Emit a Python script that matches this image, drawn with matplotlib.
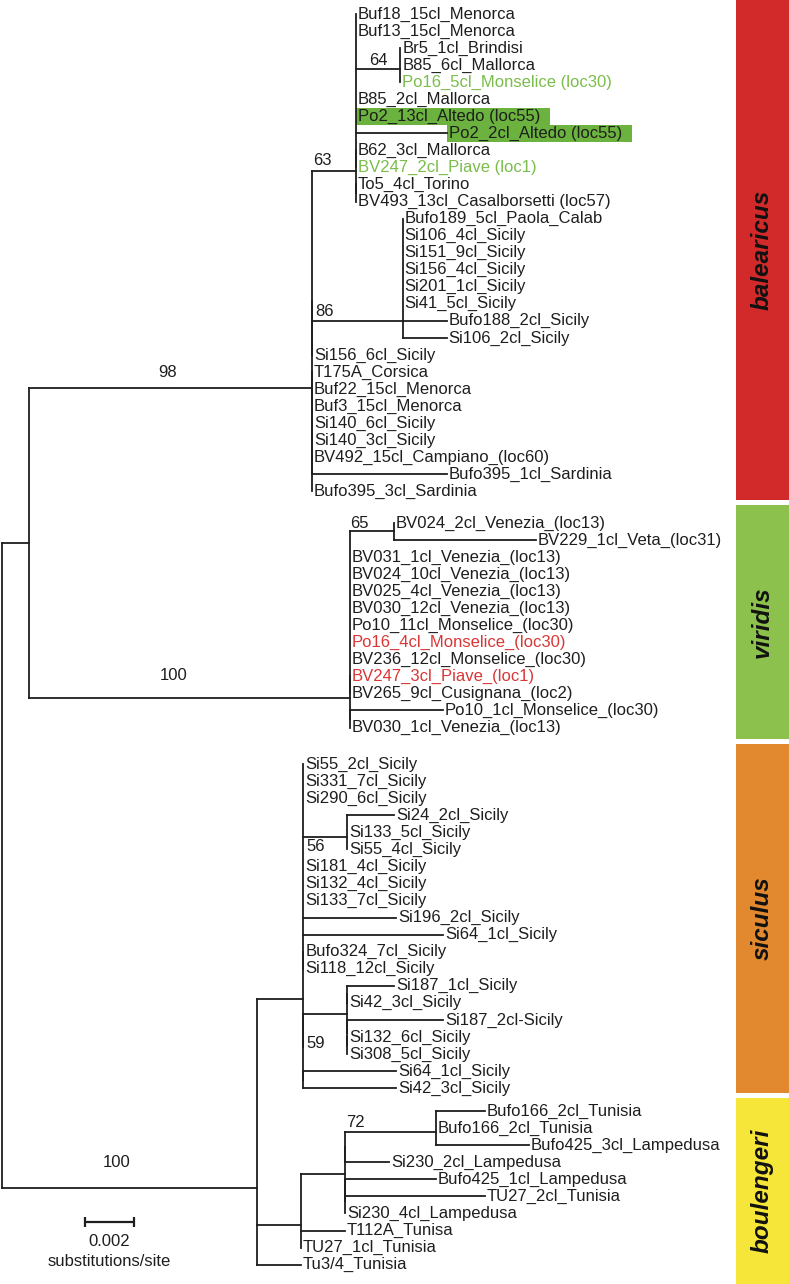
import matplotlib
matplotlib.use("Agg")
import matplotlib.pyplot as plt
from matplotlib.patches import Rectangle


def leaf(name, bl=0.0):
    return {"name": name, "len": bl}


def node(kids, bl=0.0, support=None, tag=None):
    # zero-length nodes only nest polytomies the way the original program drew them
    return {"kids": kids, "len": bl, "support": support, "tag": tag}


# ---- tree data: branch lengths in substitutions/site, bootstrap supports ----
clade_64 = node([leaf("Br5_1cl_Brindisi"), leaf("B85_6cl_Mallorca"),
                 leaf("Po16_5cl_Monselice (loc30)")], 0.0018, 64, "64")

clade_63 = node([
    node([leaf("Buf18_15cl_Menorca"), leaf("Buf13_15cl_Menorca"), clade_64,
          leaf("B85_2cl_Mallorca"), leaf("Po2_13cl_Altedo (loc55)"),
          leaf("Po2_2cl_Altedo (loc55)", 0.0037), leaf("B62_3cl_Mallorca"),
          leaf("BV247_2cl_Piave (loc1)")]),
    node([leaf("To5_4cl_Torino"), leaf("BV493_13cl_Casalborsetti (loc57)")]),
], 0.0018, 63, "63")

clade_86 = node([leaf("Bufo189_5cl_Paola_Calab"), leaf("Si106_4cl_Sicily"),
                 leaf("Si151_9cl_Sicily"), leaf("Si156_4cl_Sicily"),
                 leaf("Si201_1cl_Sicily"), leaf("Si41_5cl_Sicily"),
                 leaf("Bufo188_2cl_Sicily", 0.0018),
                 leaf("Si106_2cl_Sicily", 0.0018)], 0.0037, 86, "86")

balearicus = node([
    node([clade_63, clade_86, leaf("Si156_6cl_Sicily")]),
    node([leaf("T175A_Corsica"), leaf("Buf22_15cl_Menorca"), leaf("Buf3_15cl_Menorca"),
          leaf("Si140_6cl_Sicily"), leaf("Si140_3cl_Sicily"),
          leaf("BV492_15cl_Campiano_(loc60)"), leaf("Bufo395_1cl_Sardinia", 0.0055),
          leaf("Bufo395_3cl_Sardinia")]),
], 0.01155, 98, "balearicus")

clade_65 = node([leaf("BV024_2cl_Venezia_(loc13)"),
                 leaf("BV229_1cl_Veta_(loc31)", 0.0058)], 0.0018, 65, "65")

viridis = node([
    node([clade_65, leaf("BV031_1cl_Venezia_(loc13)"), leaf("BV024_10cl_Venezia_(loc13)"),
          leaf("BV025_4cl_Venezia_(loc13)"), leaf("BV030_12cl_Venezia_(loc13)"),
          leaf("Po10_11cl_Monselice_(loc30)"), leaf("Po16_4cl_Monselice_(loc30)"),
          leaf("BV236_12cl_Monselice_(loc30)"), leaf("BV247_3cl_Piave_(loc1)"),
          leaf("BV265_9cl_Cusignana_(loc2)")]),
    node([leaf("Po10_1cl_Monselice_(loc30)", 0.0038), leaf("BV030_1cl_Venezia_(loc13)")]),
], 0.0131, 100, "viridis")

clade_56 = node([leaf("Si24_2cl_Sicily", 0.0019), leaf("Si133_5cl_Sicily"),
                 leaf("Si55_4cl_Sicily")], 0.0018, 56, "56")

clade_59 = node([
    node([leaf("Si187_1cl_Sicily", 0.0019), leaf("Si42_3cl_Sicily")]),
    node([leaf("Si187_2cl-Sicily", 0.0039),
          node([leaf("Si132_6cl_Sicily"), leaf("Si308_5cl_Sicily")])]),
], 0.0018, 59, "59")

siculus = node([
    node([leaf("Si55_2cl_Sicily"), leaf("Si331_7cl_Sicily"), leaf("Si290_6cl_Sicily"),
          clade_56, leaf("Si181_4cl_Sicily"), leaf("Si132_4cl_Sicily"),
          leaf("Si133_7cl_Sicily"), leaf("Si196_2cl_Sicily", 0.0038),
          leaf("Si64_1cl_Sicily", 0.0057), leaf("Bufo324_7cl_Sicily"),
          leaf("Si118_12cl_Sicily")]),
    node([clade_59, node([leaf("Si64_1cl_Sicily", 0.0038), leaf("Si42_3cl_Sicily", 0.0038)])]),
], 0.0019, None, "siculus")

clade_72 = node([leaf("Bufo166_2cl_Tunisia", 0.0020), leaf("Bufo166_2cl_Tunisia"),
                 leaf("Bufo425_3cl_Lampedusa", 0.0038)], 0.0037, 72, "72")

boulengeri = node([
    node([node([clade_72, leaf("Si230_2cl_Lampedusa", 0.0018)]),
          node([node([leaf("Bufo425_1cl_Lampedusa", 0.0037), leaf("TU27_2cl_Tunisia", 0.0057)]),
                leaf("Si230_4cl_Lampedusa")])], 0.0018),
    leaf("T112A_Tunisa", 0.0018), leaf("TU27_1cl_Tunisia"),
], 0.0018, None, "boulengeri")

tu34 = leaf("Tu3/4_Tunisia", 0.0018)

tree = node([node([balearicus, viridis], 0.0011),
             node([siculus, boulengeri, tu34], 0.0104, 100, "sicboul")])

species = ["balearicus", "viridis", "siculus", "boulengeri"]
species_colors = ["#d22a2a", "#8bc14c", "#e2892f", "#f6e639"]
green_names = ["Po16_5cl_Monselice (loc30)", "BV247_2cl_Piave (loc1)"]
red_names = ["Po16_4cl_Monselice_(loc30)", "BV247_3cl_Piave_(loc1)"]
boxed_names = ["Po2_13cl_Altedo (loc55)", "Po2_2cl_Altedo (loc55)"]
scale_length = 0.002

# ---- layout ----
W, H = 789, 1284
ROW = 17.05          # px per leaf row
TOP = 14             # px of first row
K = 0.002 / 49       # subs/site per pixel (scale bar is 49 px)
XR = 2               # px of root
GAPS = {"viridis": 0.85, "siculus": 1.15, "boulengeri": 0.35}
# support label placement: (ha, fraction along branch, row offset)
SUP_POS = {"balearicus": ("center", 0.49, -0.88), "viridis": ("center", 0.45, -1.3),
           "sicboul": ("center", 0.45, -1.5), "63": ("left", 0.02, -0.65),
           "64": ("center", 0.5, -0.55), "86": ("left", 0.04, -0.55),
           "65": ("left", 0.0, -0.45), "56": ("left", 0.08, 0.55),
           "59": ("left", 0.08, 1.75), "72": ("left", 0.01, -0.6)}
INK = "#1e1e1e"
FS = 12

plt.rcParams["font.family"] = ["Liberation Sans", "DejaVu Sans"]


def px2x(px):
    return (px - XR) * K


def place(n, x0, state):
    n["x0"], n["x"] = x0, x0 + n["len"]
    if n.get("tag") in GAPS:
        state["row"] += GAPS[n["tag"]]
    if "kids" not in n:
        n["y"] = state["row"]
        state["row"] += 1
        return
    for k in n["kids"]:
        place(k, n["x"], state)
    ys = [k["y"] for k in n["kids"]]
    y = ys[0]
    for v in ys[1:]:
        y = (y + v) / 2
    n["y"] = y


def walk(n, out):
    out.append(n)
    for k in n.get("kids", []):
        walk(k, out)
    return out


place(tree, 0.0, {"row": 0.0})
all_nodes = walk(tree, [])

fig = plt.figure(figsize=(W / 100, H / 100), dpi=100)
ax = fig.add_axes([0, 0, 1, 1])
ax.set_xlim(-XR * K, (W - XR) * K)
ax.set_ylim((H - TOP) / ROW, -TOP / ROW)
ax.axis("off")

hl = [(n["y"], n["x0"], n["x"]) for n in all_nodes if n["len"] > 0]
vl = [(n["x"], n["kids"][0]["y"], n["kids"][-1]["y"]) for n in all_nodes if "kids" in n]
h = ax.hlines([s[0] for s in hl], [s[1] for s in hl], [s[2] for s in hl], color=INK, lw=1.3)
v = ax.vlines([s[0] for s in vl], [s[1] for s in vl], [s[2] for s in vl], color=INK, lw=1.3)
h.set_capstyle("projecting")
v.set_capstyle("projecting")

boxed = []
for n in all_nodes:
    if "kids" in n:
        if n["support"] is not None:
            ha, frac, dy = SUP_POS[n["tag"]]
            ax.text(n["x0"] + frac * n["len"], n["y"] + dy, str(n["support"]),
                    fontsize=FS, ha=ha, va="center", color=INK)
        continue
    color = INK
    if n["name"] in green_names:
        color = "#7abd4b"
    elif n["name"] in red_names:
        color = "#d93636"
    t = ax.text(n["x"] + 2 * K, n["y"], n["name"], fontsize=FS, ha="left", va="center",
                color=color, zorder=3)
    if n["name"] in boxed_names:
        boxed.append((n, t))

fig.canvas.draw()
inv = ax.transData.inverted()
for n, t in boxed:
    bb = t.get_window_extent()
    x_end = inv.transform((bb.x1, bb.y0))[0] + 10 * K
    ax.add_patch(Rectangle((n["x"], n["y"] - 0.5), x_end - n["x"], 1.0,
                           facecolor="#6bb23e", edgecolor="none", zorder=1))


def leaf_rows(n):
    return [m["y"] for m in walk(n, []) if "kids" not in m]


groups = [leaf_rows(balearicus), leaf_rows(viridis), leaf_rows(siculus),
          leaf_rows(boulengeri) + [tu34["y"]]]
y_top, y_bot = -TOP / ROW, (H - TOP) / ROW
for i, (name, col) in enumerate(zip(species, species_colors)):
    start = y_top if i == 0 else (max(groups[i - 1]) + min(groups[i])) / 2 - 0.1
    end = y_bot if i == len(species) - 1 else (max(groups[i]) + min(groups[i + 1])) / 2 - 0.4
    ax.add_patch(Rectangle((px2x(736), start), px2x(W + 5) - px2x(736), end - start,
                           facecolor=col, edgecolor="none"))
    ax.text((px2x(736) + px2x(W)) / 2, (start + end) / 2, name, rotation=90,
            fontsize=17.5, fontweight="bold", fontstyle="italic",
            ha="center", va="center", color="#111111")

# scale bar
sx = px2x(85)
sy = (1222 - TOP) / ROW
ax.hlines(sy, sx, sx + scale_length, color=INK, lw=1.6)
ax.vlines([sx, sx + scale_length], sy - 0.28, sy + 0.28, color=INK, lw=1.6)
ax.text(sx + scale_length / 2, (1242 - TOP) / ROW, f"{scale_length:g}", fontsize=FS,
        ha="center", va="center", color=INK)
ax.text(sx + scale_length / 2, (1262 - TOP) / ROW, "substitutions/site", fontsize=FS,
        ha="center", va="center", color=INK)

fig.savefig("out.png", dpi=100)
